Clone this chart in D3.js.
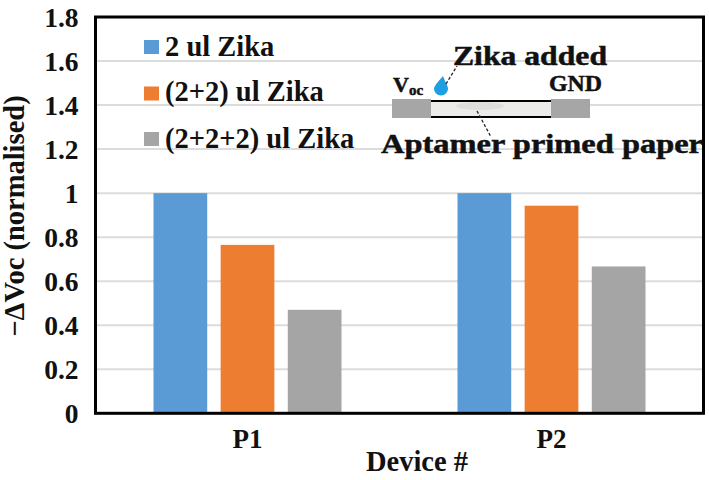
<!DOCTYPE html>
<html><head><meta charset="utf-8">
<script src="https://cdn.jsdelivr.net/npm/d3@7"></script>
<style>html,body{margin:0;padding:0;background:#fff}svg{display:block}
text{font-family:"Liberation Serif","Times New Roman",serif;font-weight:700;fill:#111}</style>
</head><body><svg id="c" width="709" height="480"></svg>
<script>
const categories = ["P1", "P2"];
const seriesNames = ["2 ul Zika", "(2+2) ul Zika", "(2+2+2) ul Zika"];
const seriesColors = ["#5b9bd5", "#ed7d31", "#a5a5a5"];
const p1Values = [1, 0.765, 0.47];
const p2Values = [1, 0.943, 0.667];
const yTicks = [0, 0.2, 0.4, 0.6, 0.8, 1, 1.2, 1.4, 1.6, 1.8];
const allValues = [p1Values, p2Values];

const svg = d3.select("#c");
const L = 95.5, R = 703.5, T = 17, B = 413.3;
const y = d3.scaleLinear().domain([0, 1.8]).range([B, T]);
const x0 = d3.scaleBand().domain(categories).range([L, R]);
const x1 = d3.scaleBand().domain(d3.range(3)).range([x0.bandwidth()/2 - 94, x0.bandwidth()/2 + 94]).paddingInner(0.2).paddingOuter(0);

// gridlines
svg.append("g").selectAll("line").data(yTicks.filter(d => d > 0 && d < 1.8)).join("line")
  .attr("x1", L).attr("x2", R).attr("y1", d => y(d)).attr("y2", d => y(d))
  .attr("stroke", "#dcdcdc").attr("stroke-width", 2);

// bars
svg.append("g").selectAll("g").data(categories).join("g")
  .attr("transform", d => `translate(${x0(d)},0)`)
  .selectAll("rect").data((d, i) => allValues[i]).join("rect")
  .attr("x", (d, i) => x1(i)).attr("width", x1.bandwidth())
  .attr("y", d => y(d)).attr("height", d => B - y(d))
  .attr("fill", (d, i) => seriesColors[i]);

// axes
const yAxis = svg.append("g").attr("transform", `translate(${L},0)`)
  .call(d3.axisLeft(y).tickValues(yTicks).tickSize(0).tickPadding(17).tickFormat(d => String(d)));
yAxis.select(".domain").remove();
yAxis.selectAll("text").style("font-size", "27.5px").attr("dy", "0.33em").attr("font-family", null);

const xAxis = svg.append("g").attr("transform", `translate(0,${B})`)
  .call(d3.axisBottom(x0).tickSize(0).tickPadding(16));
xAxis.select(".domain").remove();
xAxis.selectAll("text").style("font-size", "27px").attr("font-family", null);

// frame
svg.append("rect").attr("x", L).attr("y", T).attr("width", R - L).attr("height", B - T)
  .attr("fill", "none").attr("stroke", "#000").attr("stroke-width", 3);

// axis titles
svg.append("text").attr("x", 417).attr("y", 470.5).attr("text-anchor", "middle")
  .style("font-size", "28.5px").text("Device #");
svg.append("text").attr("transform", "translate(24,216) rotate(-90)").attr("text-anchor", "middle")
  .style("font-size", "28.5px").text("−ΔVoc (normalised)");

// legend
const legendY = [47, 93.5, 139];
const legendBase = [56, 101, 148];
const lg = svg.append("g");
lg.selectAll("rect").data(seriesNames).join("rect")
  .attr("x", 144).attr("width", 15).attr("height", 14)
  .attr("y", (d, i) => legendY[i] - 7).attr("fill", (d, i) => seriesColors[i]);
lg.selectAll("text").data(seriesNames).join("text")
  .attr("x", 165).attr("y", (d, i) => legendBase[i])
  .style("font-size", "28.5px").text(d => d);

// inset schematic
const ins = svg.append("g");
ins.append("rect").attr("x", 392).attr("y", 99).attr("width", 39).attr("height", 19).attr("fill", "#a6a6a6");
ins.append("rect").attr("x", 551).attr("y", 99).attr("width", 39).attr("height", 19).attr("fill", "#a6a6a6");
ins.append("rect").attr("x", 431).attr("y", 101).attr("width", 120).attr("height", 16).attr("fill", "#ebebe9");
ins.append("ellipse").attr("cx", 480).attr("cy", 106).attr("rx", 24).attr("ry", 4).attr("fill", "#dededc");
ins.selectAll("line.p").data([101, 117]).join("line").attr("class", "p")
  .attr("x1", 431).attr("x2", 551).attr("y1", d => d).attr("y2", d => d)
  .attr("stroke", "#000").attr("stroke-width", 2);
ins.append("path").attr("d", "M443,76 C437,83 434,86 434,89 A7,6.5 0 0 0 448,89 C448,85 445,82 443,76 Z").attr("fill", "#1e9fe3");
ins.append("path").attr("d", "M446,84 L457,66").attr("stroke", "#222").attr("stroke-width", 1.3).attr("stroke-dasharray", "3 2").attr("fill", "none");
ins.append("path").attr("d", "M477,111 L491,137").attr("stroke", "#222").attr("stroke-width", 1.3).attr("stroke-dasharray", "3 2").attr("fill", "none");
const inset = (t, x, yy, s, w) => {
  const e = ins.append("text").attr("x", x).attr("y", yy).style("font-size", s + "px")
    .attr("stroke", "#111").attr("stroke-width", 0.5).text(t);
  if (w) e.attr("textLength", w).attr("lengthAdjust", "spacingAndGlyphs");
};
inset("Zika added", 453, 65, 28, 154);
inset("GND", 549, 91, 23, 53);
inset("V", 393, 92, 22);
inset("oc", 409, 95, 15);
inset("Aptamer primed paper", 381, 153, 28, 322);
</script></body></html>
